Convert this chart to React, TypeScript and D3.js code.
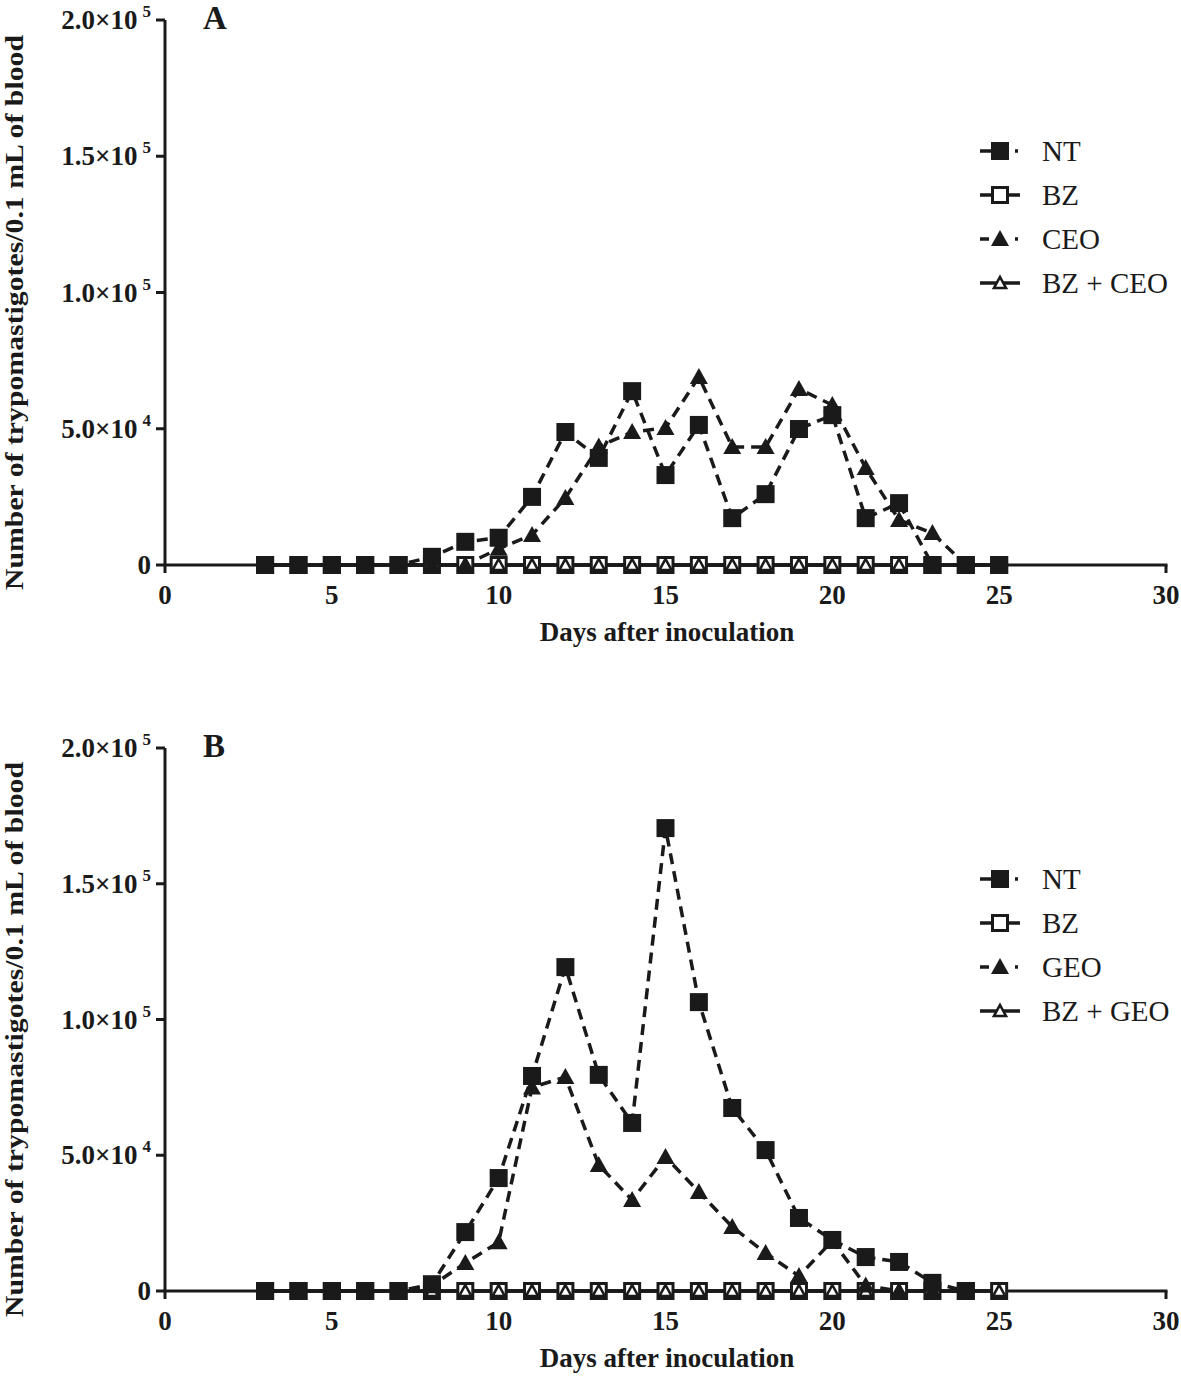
import React from "react";
import * as d3 from "d3";

const daysFull = [3, 4, 5, 6, 7, 8, 9, 10, 11, 12, 13, 14, 15, 16, 17, 18, 19, 20, 21, 22, 23, 24, 25];
const daysTo24 = [3, 4, 5, 6, 7, 8, 9, 10, 11, 12, 13, 14, 15, 16, 17, 18, 19, 20, 21, 22, 23, 24];

// Panel A
const ntA = [0, 0, 0, 0, 0, 3000, 8500, 10000, 25000, 48800, 39300, 63800, 33000, 51400, 17200, 26000, 49900, 55000, 17200, 22700, 0, 0, 0];
const bzA = [0, 0, 0, 0, 0, 0, 0, 0, 0, 0, 0, 0, 0, 0, 0, 0, 0, 0, 0, 0, 0, 0, 0];
const ceoA = [0, 0, 0, 0, 0, 0, 0, 6000, 11000, 24600, 43500, 48800, 50300, 69000, 43300, 43300, 64600, 58700, 35600, 16500, 11700, 0, 0];
const bzCeoA = [0, 0, 0, 0, 0, 0, 0, 0, 0, 0, 0, 0, 0, 0, 0, 0, 0, 0, 0, 0, 0, 0, 0];

// Panel B
const ntB = [0, 0, 0, 0, 0, 2500, 21700, 41600, 79200, 119300, 79600, 61900, 170500, 106400, 67400, 51900, 26900, 18800, 12500, 10700, 3000, 0];
const bzB = [0, 0, 0, 0, 0, 0, 0, 0, 0, 0, 0, 0, 0, 0, 0, 0, 0, 0, 0, 0, 0, 0, 0];
const geoB = [0, 0, 0, 0, 0, 2000, 10300, 18000, 75000, 78800, 46400, 33500, 49400, 36500, 23600, 14000, 5500, 18500, 2000, 0, 0, 0];
const bzGeoB = [0, 0, 0, 0, 0, 0, 0, 0, 0, 0, 0, 0, 0, 0, 0, 0, 0, 0, 0, 0, 0, 0, 0];

const xTicks = [0, 5, 10, 15, 20, 25, 30];
const yTicks = [0, 50000, 100000, 150000, 200000];
const yTickMantissa = ["0", "5.0×10", "1.0×10", "1.5×10", "2.0×10"];
const yTickExponent = ["", "4", "5", "5", "5"];
const legendA = ["NT", "BZ", "CEO", "BZ + CEO"];
const legendB = ["NT", "BZ", "GEO", "BZ + GEO"];

const INK = "#1a1a1a";
const FONT = "'Liberation Serif', 'Times New Roman', serif";

type Kind = "fsq" | "osq" | "ftri" | "otri";

function Marker({ kind, x, y }: { kind: Kind; x: number; y: number }) {
  if (kind === "fsq") return <rect x={x - 9} y={y - 9} width={18} height={18} fill={INK} />;
  if (kind === "osq")
    return <rect x={x - 7.5} y={y - 7.5} width={15} height={15} fill="#fff" stroke={INK} strokeWidth={3} />;
  const pts = `${x},${y - 9} ${x + 9},${y + 7} ${x - 9},${y + 7}`;
  if (kind === "ftri") return <polygon points={pts} fill={INK} />;
  const p2 = `${x},${y - 6} ${x + 6},${y + 5} ${x - 6},${y + 5}`;
  return <polygon points={p2} fill="#fff" stroke={INK} strokeWidth={2.6} />;
}

function Panel({
  top,
  bottom,
  label,
  series,
  legend,
}: {
  top: number;
  bottom: number;
  label: string;
  series: { days: number[]; vals: number[]; kind: Kind; dashed: boolean }[];
  legend: string[];
}) {
  const x = d3.scaleLinear().domain([0, 30]).range([165, 1166]);
  const y = d3.scaleLinear().domain([0, 200000]).range([bottom, top]);
  const x0 = x(0);
  const line = d3
    .line<[number, number]>()
    .x((d) => x(d[0]))
    .y((d) => y(d[1]));
  const legendKinds: Kind[] = ["fsq", "osq", "ftri", "otri"];
  const legendDash = ["20,15,3,60", "", "9,26,3,60", ""];
  const legendTop = top + 131;
  return (
    <g>
      {/* axes */}
      <line x1={x0} x2={x0} y1={top} y2={bottom} stroke={INK} strokeWidth={3} />
      <line x1={x0 - 1.5} x2={x(30) + 1.5} y1={bottom} y2={bottom} stroke={INK} strokeWidth={3} />
      {yTicks.map((t, i) => (
        <g key={"yt" + i}>
          <line x1={x0 - 9} x2={x0} y1={y(t)} y2={y(t)} stroke={INK} strokeWidth={3} />
          <text
            x={151}
            y={y(t) + 9}
            textAnchor="end"
            fontFamily={FONT}
            fontWeight="bold"
            fontSize={27}
            fill={INK}
          >
            {yTickMantissa[i]}
            {yTickExponent[i] && (
              <tspan dx={5} dy={-12} fontSize={17}>
                {yTickExponent[i]}
              </tspan>
            )}
          </text>
        </g>
      ))}
      {xTicks.map((t) => (
        <g key={"xt" + t}>
          <line x1={x(t)} x2={x(t)} y1={bottom} y2={bottom + 8} stroke={INK} strokeWidth={3} />
          <text
            x={x(t)}
            y={bottom + 39}
            textAnchor="middle"
            fontFamily={FONT}
            fontWeight="bold"
            fontSize={27}
            fill={INK}
          >
            {t}
          </text>
        </g>
      ))}
      <text
        x={667}
        y={bottom + 76}
        textAnchor="middle"
        fontFamily={FONT}
        fontWeight="bold"
        fontSize={27}
        fill={INK}
      >
        Days after inoculation
      </text>
      <text
        transform={`translate(23, ${(top + bottom) / 2 + 20}) rotate(-90)`}
        textAnchor="middle"
        fontFamily={FONT}
        fontWeight="bold"
        fontSize={26}
        textLength={555}
        lengthAdjust="spacingAndGlyphs"
        fill={INK}
      >
        Number of trypomastigotes/0.1 mL of blood
      </text>
      <text x={203} y={top + 9} fontFamily={FONT} fontWeight="bold" fontSize={33} fill={INK}>
        {label}
      </text>
      {/* series lines */}
      {series.map((s, i) => (
        <path
          key={"l" + i}
          d={line(s.days.map((d, j) => [d, s.vals[j]] as [number, number])) || ""}
          fill="none"
          stroke={INK}
          strokeWidth={3.5}
          strokeDasharray={s.dashed ? "11,7" : undefined}
        />
      ))}
      {/* markers */}
      {series.map((s, i) => (
        <g key={"m" + i}>
          {s.days.map((d, j) => (
            <Marker key={j} kind={s.kind} x={x(d)} y={y(s.vals[j])} />
          ))}
        </g>
      ))}
      {/* legend */}
      {legend.map((name, i) => {
        const ly = legendTop + i * 44;
        return (
          <g key={"lg" + i}>
            <line
              x1={980}
              x2={1020}
              y1={ly}
              y2={ly}
              stroke={INK}
              strokeWidth={3.5}
              strokeDasharray={legendDash[i] || undefined}
            />
            <Marker kind={legendKinds[i]} x={1000} y={ly} />
            <text x={1042} y={ly + 10} fontFamily={FONT} fontSize={29} fill={INK}>
              {name}
            </text>
          </g>
        );
      })}
    </g>
  );
}

export default function App() {
  const seriesA = [
    { days: daysFull, vals: bzA, kind: "osq" as Kind, dashed: false },
    { days: daysFull, vals: bzCeoA, kind: "otri" as Kind, dashed: false },
    { days: daysFull, vals: ceoA, kind: "ftri" as Kind, dashed: true },
    { days: daysFull, vals: ntA, kind: "fsq" as Kind, dashed: true },
  ];
  const seriesB = [
    { days: daysFull, vals: bzB, kind: "osq" as Kind, dashed: false },
    { days: daysFull, vals: bzGeoB, kind: "otri" as Kind, dashed: false },
    { days: daysTo24, vals: geoB, kind: "ftri" as Kind, dashed: true },
    { days: daysTo24, vals: ntB, kind: "fsq" as Kind, dashed: true },
  ];
  return (
    <svg
      width={1181}
      height={1377}
      style={{ position: "absolute", left: 0, top: 0, background: "#fff" }}
    >
      <rect width={1181} height={1377} fill="#fff" />
      <Panel top={20} bottom={565} label="A" series={seriesA} legend={legendA} />
      <Panel top={748} bottom={1291} label="B" series={seriesB} legend={legendB} />
    </svg>
  );
}
